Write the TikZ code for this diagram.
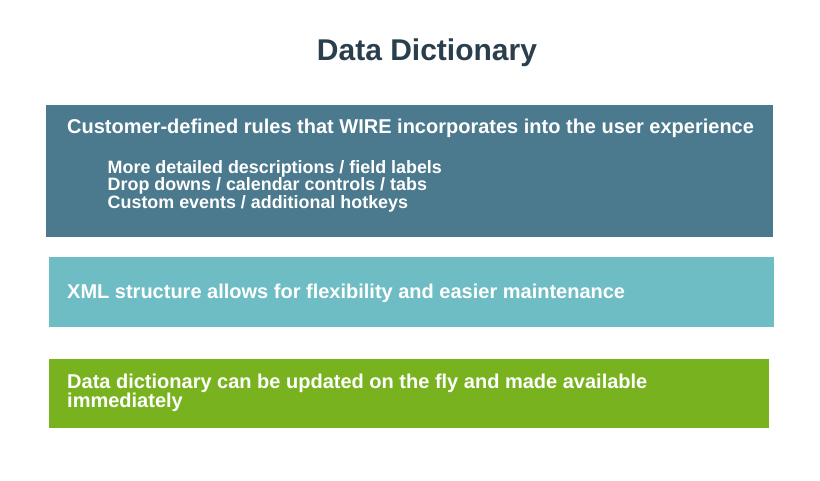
\documentclass[tikz,border=0pt]{standalone}
\usepackage{fontspec}
\setmainfont{Liberation Sans}
\definecolor{titlecol}{HTML}{2A3F4D}
\definecolor{boxA}{HTML}{4B7A8E}
\definecolor{boxB}{HTML}{6EBDC5}
\definecolor{boxC}{HTML}{78B31F}
\begin{document}
\begin{tikzpicture}[x=1pt,y=1pt,
  panel/.style={rectangle, inner sep=0pt, outer sep=0pt, anchor=north west, draw=none},
  maintext/.style={inner sep=0pt, anchor=base west, text=white, font=\fontsize{20}{17.7}\selectfont\bfseries, align=left},
  subtext/.style={inner sep=0pt, anchor=base west, text=white, font=\fontsize{17.9}{17.4}\selectfont\bfseries, align=left}]
\useasboundingbox (0,0) rectangle (820,-481);
\fill[white] (0,0) rectangle (820,-481);
\node[inner sep=0pt, anchor=base, text=titlecol, font=\fontsize{30}{36}\selectfont\bfseries] (title) at (427,-60.7) {Data Dictionary};
\node[panel, fill=boxA, minimum width=727, minimum height=132.5] (b1) at (46,-105) {};
\node[panel, fill=boxB, minimum width=724.5, minimum height=69.5] (b2) at (49,-257.3) {};
\node[panel, fill=boxC, minimum width=720, minimum height=69] (b3) at (49,-359.3) {};
\node[maintext] (t1) at (67,-133.8) {Customer-defined rules that WIRE incorporates into the user experience};
\node[subtext] (s1) at (107.5,-208.1) {More detailed descriptions / field labels\\Drop downs / calendar controls / tabs\\Custom events / additional hotkeys};
\node[maintext] (t2) at (67,-298.3) {XML structure allows for flexibility and easier maintenance};
\node[maintext] (t3) at (67,-407.7) {Data dictionary can be updated on the fly and made available\\immediately};
\end{tikzpicture}
\end{document}
